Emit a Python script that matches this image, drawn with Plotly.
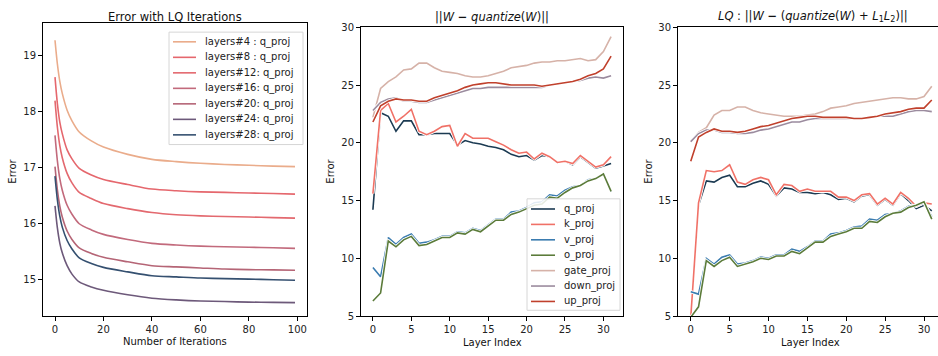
import plotly.graph_objects as go

# ---------------- data ----------------
iters = [0, 1, 2, 3, 5, 7, 10, 15, 20, 30, 40, 50, 60, 70, 80, 90, 99]
lq_names = ["layers#4 : q_proj", "layers#8 : q_proj", "layers#12: q_proj", "layers#16: q_proj",
            "layers#20: q_proj", "layers#24: q_proj", "layers#28: q_proj"]
lq_l4 = [19.28, 18.85, 18.54, 18.33, 18.03, 17.84, 17.64, 17.48, 17.37, 17.24, 17.15, 17.11, 17.08, 17.06, 17.045, 17.03, 17.02]
lq_l8 = [18.62, 18.14, 17.81, 17.61, 17.32, 17.16, 16.99, 16.87, 16.79, 16.70, 16.62, 16.59, 16.57, 16.56, 16.55, 16.54, 16.53]
lq_l12 = [18.20, 17.72, 17.39, 17.18, 16.90, 16.73, 16.56, 16.45, 16.36, 16.27, 16.20, 16.16, 16.14, 16.13, 16.12, 16.11, 16.10]
lq_l16 = [17.58, 17.12, 16.80, 16.60, 16.33, 16.17, 16.00, 15.89, 15.81, 15.72, 15.65, 15.62, 15.60, 15.59, 15.58, 15.57, 15.56]
lq_l20 = [17.02, 16.60, 16.31, 16.12, 15.87, 15.72, 15.57, 15.47, 15.40, 15.32, 15.25, 15.23, 15.21, 15.19, 15.18, 15.175, 15.17]
lq_l24 = [16.32, 15.92, 15.65, 15.48, 15.25, 15.10, 14.96, 14.87, 14.81, 14.73, 14.67, 14.64, 14.62, 14.61, 14.60, 14.595, 14.59]
lq_l28 = [16.85, 16.42, 16.13, 15.94, 15.70, 15.55, 15.39, 15.29, 15.22, 15.14, 15.07, 15.05, 15.03, 15.02, 15.01, 15.00, 14.99]
lq_colors = ["#eaac8b", "#e5676d", "#e3696f", "#c26a7c", "#b56576", "#6d597a", "#355070"]

layers = list(range(32))
proj_names = ["q_proj", "k_proj", "v_proj", "o_proj", "gate_proj", "down_proj", "up_proj"]
proj_colors = ["#1b3a52", "#f07167", "#3b7cb0", "#5b7b3a", "#d6b2a8", "#9b8b9e", "#c0402c"]

# middle: ||W - quantize(W)||
q_mid = [14.2, 22.6, 22.3, 21.0, 21.9, 21.9, 20.7, 20.7, 20.8, 20.8, 20.8, 19.8, 20.2, 20.0, 19.9, 19.7,
         19.6, 19.4, 19.0, 18.8, 18.9, 18.5, 18.9, 18.8, 18.3, 18.4, 18.1, 18.8, 18.3, 17.8, 18.0, 18.2]
k_mid = [15.6, 22.8, 23.4, 21.8, 22.3, 22.9, 21.0, 20.7, 21.0, 21.4, 21.5, 19.7, 20.8, 20.4, 20.4, 20.4,
         20.1, 19.8, 19.4, 19.1, 19.2, 18.6, 19.1, 18.8, 18.3, 18.4, 18.2, 18.9, 18.4, 17.9, 18.1, 18.8]
v_mid = [9.2, 8.4, 11.8, 11.2, 11.8, 12.1, 11.3, 11.4, 11.6, 11.9, 11.9, 12.3, 12.2, 12.6, 12.4, 12.9,
         13.4, 13.4, 14.0, 14.1, 14.4, 14.8, 14.9, 15.5, 15.4, 15.9, 16.2, 16.3, 16.8, 16.9, 17.3, 15.8]
o_mid = [6.3, 7.0, 11.5, 11.0, 11.6, 11.9, 11.1, 11.2, 11.5, 11.8, 11.8, 12.2, 12.1, 12.5, 12.3, 12.8,
         13.3, 13.3, 13.8, 14.0, 14.3, 14.6, 14.7, 15.3, 15.2, 15.7, 16.1, 16.3, 16.7, 16.9, 17.3, 15.8]
gate_mid = [22.2, 24.7, 25.3, 25.7, 26.3, 26.4, 26.9, 26.9, 26.5, 26.2, 26.1, 26.0, 25.8, 25.7, 25.7, 25.8,
            26.0, 26.2, 26.5, 26.6, 26.7, 26.9, 27.0, 27.0, 27.1, 27.1, 27.2, 27.3, 27.1, 27.2, 27.9, 29.2]
down_mid = [22.8, 23.5, 23.8, 23.9, 23.6, 23.6, 23.5, 23.5, 23.7, 23.9, 24.1, 24.3, 24.5, 24.7, 24.7, 24.8,
            24.8, 24.8, 24.8, 24.8, 24.8, 24.8, 24.8, 25.0, 25.1, 25.2, 25.3, 25.4, 25.6, 25.7, 25.6, 25.8]
up_mid = [21.8, 23.2, 23.6, 23.8, 23.7, 23.7, 23.6, 23.6, 23.9, 24.1, 24.3, 24.5, 24.8, 25.0, 25.1, 25.2,
          25.2, 25.1, 25.0, 25.0, 25.0, 25.0, 24.9, 25.0, 25.1, 25.2, 25.3, 25.5, 25.8, 26.0, 26.4, 27.5]

# right: LQ
q_lq = [4.8, 14.6, 16.7, 16.6, 17.0, 17.2, 16.2, 16.2, 16.5, 16.7, 16.4, 15.4, 16.1, 16.0, 15.7, 15.7,
        15.6, 15.7, 15.5, 15.1, 15.2, 14.9, 15.4, 15.5, 14.6, 15.1, 14.6, 15.6, 15.0, 14.3, 14.6, 14.1]
k_lq = [4.9, 14.8, 17.6, 17.5, 17.6, 18.1, 16.6, 16.4, 16.8, 17.0, 16.8, 15.5, 16.4, 16.3, 15.8, 16.0,
        15.8, 15.8, 15.8, 15.3, 15.3, 15.0, 15.5, 15.6, 14.7, 15.2, 14.7, 15.7, 15.2, 14.5, 14.8, 14.7]
v_lq = [7.1, 6.9, 10.0, 9.5, 10.1, 10.3, 9.5, 9.6, 9.8, 10.1, 10.0, 10.3, 10.3, 10.8, 10.6, 11.0,
        11.5, 11.5, 12.1, 12.2, 12.4, 12.7, 12.8, 13.4, 13.3, 13.8, 13.9, 14.1, 14.5, 14.6, 14.8, 13.6]
o_lq = [4.9, 5.8, 9.8, 9.3, 9.8, 10.1, 9.3, 9.5, 9.7, 10.0, 9.9, 10.2, 10.2, 10.6, 10.4, 10.9,
        11.4, 11.4, 11.9, 12.1, 12.3, 12.6, 12.6, 13.2, 13.1, 13.6, 13.9, 14.0, 14.4, 14.6, 14.9, 13.4]
gate_lq = [20.1, 20.9, 21.3, 22.4, 22.8, 22.8, 23.1, 23.1, 22.8, 22.6, 22.5, 22.4, 22.3, 22.3, 22.3, 22.4,
           22.5, 22.7, 23.0, 23.1, 23.2, 23.4, 23.5, 23.6, 23.7, 23.8, 23.9, 23.9, 23.8, 23.8, 24.0, 24.9]
down_lq = [20.1, 20.8, 21.1, 21.1, 20.9, 20.9, 20.8, 20.8, 20.9, 21.1, 21.2, 21.4, 21.6, 21.8, 21.8, 22.0,
           22.1, 22.1, 22.1, 22.1, 22.1, 22.1, 22.1, 22.2, 22.3, 22.3, 22.3, 22.5, 22.7, 22.8, 22.8, 22.7]
up_lq = [18.4, 20.5, 20.9, 21.2, 21.0, 21.0, 20.9, 21.0, 21.2, 21.4, 21.5, 21.7, 21.9, 22.1, 22.2, 22.3,
         22.3, 22.2, 22.2, 22.2, 22.2, 22.1, 22.1, 22.2, 22.3, 22.5, 22.6, 22.7, 22.9, 23.0, 23.0, 23.7]

# ---------------- figure ----------------
W, H = 938, 356
FONT = "DejaVu Sans"
fig = go.Figure()

def px_x(p):
    return p / W

def px_y(p):
    return 1 - p / H

lq_series = [lq_l4, lq_l8, lq_l12, lq_l16, lq_l20, lq_l24, lq_l28]
for name, ys, c in zip(lq_names, lq_series, lq_colors):
    fig.add_trace(go.Scatter(x=iters, y=ys, mode="lines", name=name,
                             line=dict(color=c, width=1.6, shape="spline", smoothing=0.8),
                             xaxis="x", yaxis="y"))

mid_series = [q_mid, k_mid, v_mid, o_mid, gate_mid, down_mid, up_mid]
lq_proj_series = [q_lq, k_lq, v_lq, o_lq, gate_lq, down_lq, up_lq]
for xa, ya, series in [("x2", "y2", mid_series), ("x3", "y3", lq_proj_series)]:
    for name, ys, c in zip(proj_names, series, proj_colors):
        fig.add_trace(go.Scatter(x=layers, y=ys, mode="lines", hoverinfo="skip",
                                 line=dict(color="white", width=3.2), xaxis=xa, yaxis=ya))
        fig.add_trace(go.Scatter(x=layers, y=ys, mode="lines", name=name,
                                 line=dict(color=c, width=1.6), xaxis=xa, yaxis=ya))

axis_common = dict(showgrid=False, zeroline=False, showline=True, linecolor="black", linewidth=1,
                   ticks="outside", ticklen=4, tickwidth=1, tickcolor="black",
                   tickfont=dict(family=FONT, size=10, color="#222"))

fig.update_layout(
    width=W, height=H, margin=dict(l=0, r=0, t=0, b=0),
    paper_bgcolor="white", plot_bgcolor="white",
    font=dict(family=FONT, size=10, color="#222"),
    showlegend=False,
    xaxis=dict(domain=[px_x(43), px_x(307)], range=[-4.95, 103.95], tickvals=[0, 20, 40, 60, 80, 100],
               mirror=True, anchor="y", **axis_common),
    yaxis=dict(domain=[px_y(321), px_y(19)], range=[14.35, 19.58], tickvals=[15, 16, 17, 18, 19],
               mirror=True, anchor="x", **axis_common),
    xaxis2=dict(domain=[px_x(361), px_x(623)], range=[-1.55, 32.55], tickvals=[0, 5, 10, 15, 20, 25, 30],
                mirror=True, anchor="y2", **axis_common),
    yaxis2=dict(domain=[px_y(321), px_y(23)], range=[5, 30], tickvals=[5, 10, 15, 20, 25, 30],
                mirror=True, anchor="x2", **axis_common),
    xaxis3=dict(domain=[px_x(678), 1.0], range=[-1.64, 31.8], tickvals=[0, 5, 10, 15, 20, 25, 30],
                mirror=True, anchor="y3", **axis_common),
    yaxis3=dict(domain=[px_y(321), px_y(23)], range=[5, 30], tickvals=[5, 10, 15, 20, 25, 30],
                mirror=False, anchor="x3", **axis_common),
)

# ---- custom legends (matplotlib-like compact rows) ----
def add_legend(names, colors, box, line_x0, line_x1, text_x, row0, dy):
    x0, y0, x1, y1 = box
    fig.add_shape(type="rect", xref="paper", yref="paper",
                  x0=px_x(x0), x1=px_x(x1), y0=px_y(y1), y1=px_y(y0),
                  fillcolor="rgba(255,255,255,0.85)", line=dict(color="#d6d6d6", width=1), layer="above")
    for i, (n, c) in enumerate(zip(names, colors)):
        yy = row0 + i * dy
        fig.add_shape(type="line", xref="paper", yref="paper",
                      x0=px_x(line_x0), x1=px_x(line_x1), y0=px_y(yy), y1=px_y(yy),
                      line=dict(color=c, width=1.6), layer="above")
        fig.add_annotation(text=n, x=px_x(text_x), y=px_y(yy), xref="paper", yref="paper",
                           showarrow=False, xanchor="left", yanchor="middle",
                           font=dict(family=FONT, size=10, color="#222"))

add_legend(lq_names, lq_colors, (169, 28, 303, 144), 173, 196, 203, 38, 16)
add_legend(proj_names, proj_colors, (527, 200, 620, 315), 531, 555, 562, 210.5, 15.9)

ann = [
    dict(text="Error with LQ Iterations", x=px_x(175), y=px_y(12.5), size=11.5),
    dict(text="||<i>W</i> <b>−</b> <i>quantize</i>(<i>W</i>)||", x=px_x(492), y=px_y(12.5), size=11.5),
    dict(text="<i>LQ</i> : ||<i>W</i> <b>−</b> (<i>quantize</i>(<i>W</i>) + <i>L</i><sub>1</sub><i>L</i><sub>2</sub>)||",
         x=px_x(813), y=px_y(11.5), size=11.5),
    dict(text="Number of Iterations", x=px_x(175), y=px_y(347), size=10),
    dict(text="Layer Index", x=px_x(492), y=px_y(348), size=10),
    dict(text="Layer Index", x=px_x(810), y=px_y(348), size=10),
]
for a in ann:
    fig.add_annotation(text=a["text"], x=a["x"], y=a["y"], xref="paper", yref="paper",
                       showarrow=False, xanchor="center", yanchor="middle",
                       font=dict(family=FONT, size=a["size"], color="#111"))
for xp in [13, 331, 649]:
    fig.add_annotation(text="Error", x=px_x(xp), y=px_y(172), xref="paper", yref="paper",
                       showarrow=False, textangle=-90, xanchor="center", yanchor="middle",
                       font=dict(family=FONT, size=10, color="#111"))

fig.write_html("out.html", config={"displayModeBar": False},
               post_script="document.body.style.margin='0';document.body.style.overflow='hidden';")
